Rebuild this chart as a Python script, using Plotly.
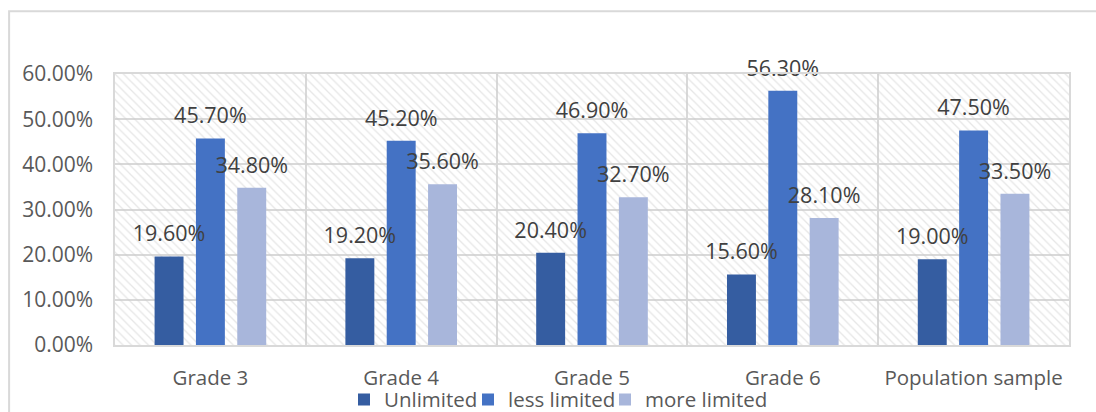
import plotly.graph_objects as go

categories = ["Grade 3", "Grade 4", "Grade 5", "Grade 6", "Population sample"]
unlimited = [0.196, 0.192, 0.204, 0.156, 0.190]
less_limited = [0.457, 0.452, 0.469, 0.563, 0.475]
more_limited = [0.348, 0.356, 0.327, 0.281, 0.335]
series_names = ["Unlimited", "less limited", "more limited"]
colors = ["#355DA1", "#4472C4", "#A8B6DB"]
legend_ids = ["legend", "legend2", "legend3"]

FONT = "Open Sans"
fig = go.Figure()

# hatched plot-area background
fig.add_trace(go.Bar(
    x=categories, y=[0.6] * len(categories), width=1, offset=-0.5,
    alignmentgroup="bg", offsetgroup="bg",
    marker=dict(color="rgba(0,0,0,0)", line=dict(width=0),
                pattern=dict(shape="\\", fgcolor="#cdcdcd", bgcolor="rgba(0,0,0,0)",
                             size=6, solidity=0.22, fillmode="overlay")),
    hoverinfo="skip", showlegend=False,
))

for name, vals, col, lg in zip(series_names, [unlimited, less_limited, more_limited], colors, legend_ids):
    fig.add_trace(go.Bar(
        x=categories, y=vals, name=name, marker=dict(color=col, line=dict(width=0)),
        alignmentgroup="data", offsetgroup=name, legend=lg,
    ))
for name, vals in zip(series_names, [unlimited, less_limited, more_limited]):
    fig.add_trace(go.Scatter(
        x=categories, y=vals, mode="markers+text",
        text=[f"{v*100:.2f}%" for v in vals], textposition="top center",
        textfont=dict(family=FONT, size=21.5, color="#404040"),
        marker=dict(size=14, opacity=0), cliponaxis=False,
        alignmentgroup="data", offsetgroup=name,
        showlegend=False, hoverinfo="skip",
    ))

legend_style = dict(orientation="h", xref="container", yref="container",
                    y=0.030, yanchor="middle", xanchor="left",
                    font=dict(family=FONT, size=20.5, color="#595959"),
                    bgcolor="rgba(0,0,0,0)", itemwidth=30)
legend_lefts = [344 / 1096, 468 / 1096, 605 / 1096]

fig.update_layout(
    width=1096, height=412,
    margin=dict(l=115, r=27, t=74, b=67, autoexpand=False),
    paper_bgcolor="white", plot_bgcolor="white",
    barmode="group", bargap=0.35, bargroupgap=0.3,
    scattermode="group", scattergap=0.35,
    font=dict(family=FONT, size=21, color="#595959"),
    showlegend=True,
    legend=dict(legend_style, x=legend_lefts[0]),
    legend2=dict(legend_style, x=legend_lefts[1]),
    legend3=dict(legend_style, x=legend_lefts[2]),
    xaxis=dict(type="category", tickson="boundaries", showgrid=True, gridcolor="#d9d9d9",
               gridwidth=1.5, showline=True, linecolor="#d9d9d9", linewidth=1.5, mirror=True,
               ticks="", ticklabelstandoff=14, automargin=False,
               tickfont=dict(size=20.5, color="#595959")),
    yaxis=dict(range=[0, 0.6], dtick=0.1, tickformat=".2%", showgrid=True,
               gridcolor="#d9d9d9", gridwidth=1.5, showline=True, linecolor="#d9d9d9",
               linewidth=1.5, mirror=True, zeroline=False, ticks="", ticklabelstandoff=16,
               automargin=False, tickfont=dict(size=21, color="#595959")),
    shapes=[dict(type="rect", xref="paper", yref="paper",
                 x0=-0.111, x1=1.2, y0=-0.4, y1=1.232,
                 line=dict(color="#d9d9d9", width=2), fillcolor="rgba(0,0,0,0)", layer="below")],
)

fig.write_html("out.html")
